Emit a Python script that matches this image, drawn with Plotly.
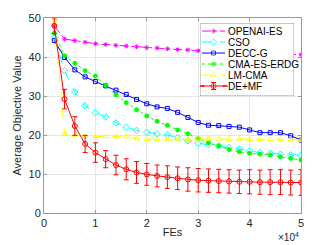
import plotly.graph_objects as go

fes = [2000 * (i + 1) for i in range(25)]

openai_es = [48.0, 44.6, 44.2, 43.8, 43.4, 43.2, 43.0, 42.8, 42.6, 42.4, 42.3, 42.1, 41.9,
             41.8, 41.6, 41.5, 41.4, 41.3, 41.2, 41.1, 41.0, 40.9, 40.8, 40.7, 40.6]
cso = [45.0, 36.5, 31.0, 27.5, 25.7, 24.6, 23.1, 22.0, 21.2, 20.7, 20.3, 20.0, 19.3,
       18.5, 17.9, 17.5, 17.2, 16.8, 16.4, 15.9, 15.5, 15.3, 15.1, 14.9, 14.8]
decc_g = [44.2, 39.9, 36.7, 34.9, 33.7, 32.6, 31.5, 30.4, 29.1, 28.0, 27.2, 26.8, 25.8,
          24.5, 23.2, 22.5, 22.4, 22.2, 22.0, 21.3, 20.6, 20.6, 20.6, 19.8, 18.7]
cma_es_erdg = [46.1, 40.3, 38.4, 36.5, 35.1, 32.8, 30.3, 28.3, 26.5, 24.9, 23.5, 22.5, 21.3,
               20.3, 19.1, 18.0, 17.2, 16.3, 15.7, 15.3, 15.1, 14.9, 14.4, 14.0, 13.6]
lm_cma = [49.5, 20.4, 20.0, 19.7, 19.6, 19.6, 19.6, 19.6, 19.1, 18.9, 18.9, 18.8, 18.8,
          18.9, 19.0, 19.0, 19.0, 18.9, 19.0, 18.9, 18.9, 18.9, 18.9, 18.9, 18.7]
de_mf = [48.0, 29.2, 22.3, 17.7, 15.5, 13.8, 12.3, 11.2, 10.4, 9.9, 9.5, 9.2, 8.9,
         8.6, 8.4, 8.3, 8.2, 8.1, 8.0, 8.0, 7.9, 7.9, 7.9, 7.8, 7.8]
de_mf_err = [2.0, 2.5, 2.4, 2.2, 2.5, 2.2, 2.5, 2.7, 2.8, 2.8, 2.8, 2.9, 2.9,
             3.0, 3.0, 3.0, 3.0, 3.0, 3.0, 3.1, 3.1, 3.2, 3.2, 3.2, 3.3]

x_ticks = [0, 10000, 20000, 30000, 40000, 50000]
x_tick_labels = ["0", "1", "2", "3", "4", "5"]
y_ticks = [0, 10, 20, 30, 40, 50]

series = [
    ("OPENAI-ES", openai_es, "#FF00FF", "dashdot", "asterisk-open", 4),
    ("CSO", cso, "#00FFFF", "dash", "diamond-open", 5),
    ("DECC-G", decc_g, "#0000FF", "solid", "square-open", 4),
    ("CMA-ES-ERDG", cma_es_erdg, "#00FF00", "dot", "circle", 4),
    ("LM-CMA", lm_cma, "#FFFF00", "dash", "triangle-up-open", 5),
    ("DE+MF", de_mf, "#FF0000", "solid", "circle-open", 5),
]

FONT = "Liberation Sans, Arial, sans-serif"
fig = go.Figure()

for name, vals, col, dash, sym, sz in series:
    kw = {}
    if name == "DE+MF":
        kw["error_y"] = dict(type="data", array=de_mf_err, color=col, thickness=1, width=2.5)
    fig.add_trace(go.Scatter(
        x=fes, y=vals, name=name, mode="lines+markers",
        line=dict(color=col, width=1, dash=dash),
        marker=dict(symbol=sym, size=sz, color=col, line=dict(color=col, width=1)),
        showlegend=False, **kw))

# custom compact legend drawn in an overlay subplot
LW, LH = 94, 73
fig.add_trace(go.Scatter(
    x=[0, LW, LW, 0, 0], y=[0, 0, LH, LH, 0], xaxis="x2", yaxis="y2",
    mode="lines", fill="toself", fillcolor="white",
    line=dict(color="#9a9a9a", width=1), hoverinfo="skip", showlegend=False))
for i, (name, vals, col, dash, sym, sz) in enumerate(series):
    yy = 8 + 11 * i
    fig.add_trace(go.Scatter(
        x=[2, 13.5, 25], y=[yy, yy, yy], xaxis="x2", yaxis="y2",
        mode="lines+markers",
        line=dict(color=col, width=1, dash=dash),
        marker=dict(symbol=sym, size=[0, sz, 0], color=col, line=dict(color=col, width=1)),
        error_y=(dict(type="data", array=[0, 3.5, 0], color=col, thickness=1, width=2.5)
                 if name == "DE+MF" else None),
        hoverinfo="skip", showlegend=False))
    fig.add_annotation(x=26, y=yy, xref="x2", yref="y2", text=name, showarrow=False,
                       xanchor="left", yanchor="middle",
                       font=dict(family=FONT, size=10, color="#000000"))

fig.add_annotation(x=1.0, y=-0.125, xref="paper", yref="paper", text="×10<sup>4</sup>",
                   showarrow=False, xanchor="right", yanchor="middle",
                   font=dict(family=FONT, size=10, color="#262626"))

axis_common = dict(showline=True, linecolor="#9a9a9a", linewidth=1, mirror="ticks",
                   ticks="inside", ticklen=3, tickcolor="#9a9a9a", automargin=False,
                   showgrid=True, gridcolor="#e6e6e6", gridwidth=1, zeroline=False,
                   tickfont=dict(family=FONT, size=11, color="#262626"))

# page body has an 8px margin, so the figure is sized/offset to compensate
fig.update_layout(
    width=315, height=237,
    margin=dict(l=36, r=22, t=10, b=32),
    paper_bgcolor="white", plot_bgcolor="white",
    xaxis=dict(range=[0, 50000], tickvals=x_ticks, ticktext=x_tick_labels,
               title=dict(text="FEs", font=dict(family=FONT, size=11, color="#262626"), standoff=0),
               **axis_common),
    yaxis=dict(range=[0, 50], tickvals=y_ticks,
               title=dict(text="Average Objective Value", font=dict(family=FONT, size=11, color="#262626"), standoff=4),
               **axis_common),
    xaxis2=dict(domain=[0.607, 0.973], range=[0, LW], visible=False, anchor="y2",
                fixedrange=True),
    yaxis2=dict(domain=[0.6, 0.974], range=[LH, 0], visible=False, anchor="x2",
                fixedrange=True),
    showlegend=False,
)

fig.write_html("out.html")
